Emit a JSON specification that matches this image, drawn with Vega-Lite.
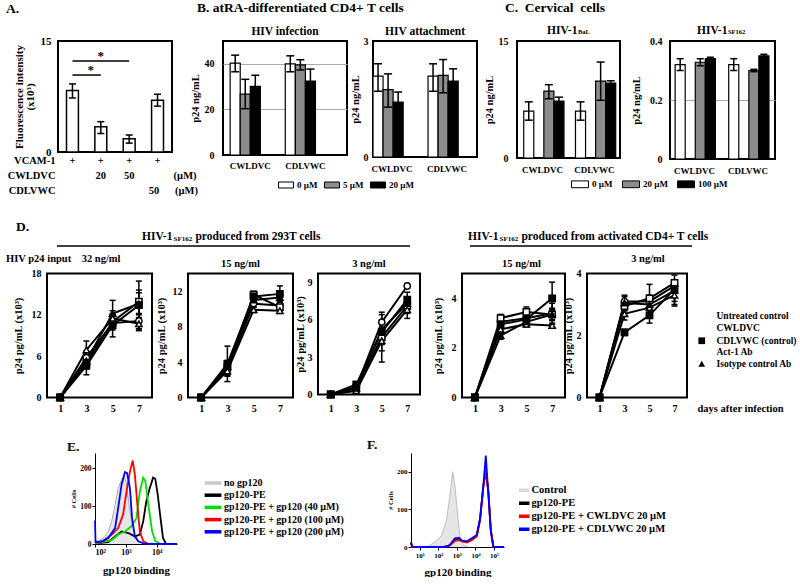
{
  "$schema": "https://vega.github.io/schema/vega-lite/v6.json",
  "background": "white",
  "padding": {"left": 0, "top": 0, "right": 0, "bottom": 0},
  "spacing": 22,
  "config": {
    "font": "Liberation Serif",
    "view": {"stroke": "black", "strokeWidth": 2},
    "title": {"font": "Liberation Serif", "fontWeight": "bold", "color": "black", "subtitleFont": "Liberation Serif", "subtitleFontWeight": "bold", "subtitleColor": "black"},
    "axis": {"labelFont": "Liberation Serif", "titleFont": "Liberation Serif", "labelFontWeight": "bold", "titleFontWeight": "bold", "labelColor": "black", "titleColor": "black", "domain": false, "ticks": false, "grid": false, "labelAngle": 0},
    "legend": {"labelFont": "Liberation Serif", "labelFontWeight": "bold", "labelColor": "black"},
    "text": {"font": "Liberation Serif"}
  },
  "datasets": {
    "dvals": [
      {"p":"D1","s":"Untreated control","day":1,"v":0},
      {"p":"D1","s":"Untreated control","day":3,"v":5.8,"lo":4.9,"hi":6.7},
      {"p":"D1","s":"Untreated control","day":5,"v":10.8,"lo":9.8,"hi":11.8},
      {"p":"D1","s":"Untreated control","day":7,"v":11.1,"lo":10.0,"hi":12.2},
      {"p":"D1","s":"CWLDVC","day":1,"v":0},
      {"p":"D1","s":"CWLDVC","day":3,"v":5.0,"lo":4.2,"hi":5.8},
      {"p":"D1","s":"CWLDVC","day":5,"v":11.0,"lo":10.0,"hi":12.0},
      {"p":"D1","s":"CWLDVC","day":7,"v":13.9,"lo":10.9,"hi":16.9},
      {"p":"D1","s":"CDLVWC (control)","day":1,"v":0},
      {"p":"D1","s":"CDLVWC (control)","day":3,"v":4.6,"lo":3.3,"hi":5.9},
      {"p":"D1","s":"CDLVWC (control)","day":5,"v":10.5,"lo":8.8,"hi":12.2},
      {"p":"D1","s":"CDLVWC (control)","day":7,"v":13.4,"lo":9.7,"hi":15.6},
      {"p":"D1","s":"Act-1 Ab","day":1,"v":0},
      {"p":"D1","s":"Act-1 Ab","day":3,"v":6.9,"lo":5.6,"hi":8.2},
      {"p":"D1","s":"Act-1 Ab","day":5,"v":11.5,"lo":10.4,"hi":12.6},
      {"p":"D1","s":"Act-1 Ab","day":7,"v":10.7,"lo":9.8,"hi":11.6},
      {"p":"D1","s":"Isotype control Ab","day":1,"v":0},
      {"p":"D1","s":"Isotype control Ab","day":3,"v":5.3,"lo":4.5,"hi":6.1},
      {"p":"D1","s":"Isotype control Ab","day":5,"v":12.2,"lo":10.3,"hi":14.1},
      {"p":"D1","s":"Isotype control Ab","day":7,"v":13.6,"lo":12.0,"hi":15.2},

      {"p":"D2","s":"Untreated control","day":1,"v":0},
      {"p":"D2","s":"Untreated control","day":3,"v":3.2,"lo":2.5,"hi":3.9},
      {"p":"D2","s":"Untreated control","day":5,"v":10.6,"lo":10.2,"hi":11.0},
      {"p":"D2","s":"Untreated control","day":7,"v":10.4,"lo":10.0,"hi":10.8},
      {"p":"D2","s":"CWLDVC","day":1,"v":0},
      {"p":"D2","s":"CWLDVC","day":3,"v":3.4,"lo":2.6,"hi":4.2},
      {"p":"D2","s":"CWLDVC","day":5,"v":11.6,"lo":11.1,"hi":12.0},
      {"p":"D2","s":"CWLDVC","day":7,"v":10.2,"lo":9.8,"hi":10.6},
      {"p":"D2","s":"CDLVWC (control)","day":1,"v":0},
      {"p":"D2","s":"CDLVWC (control)","day":3,"v":3.8,"lo":1.8,"hi":5.8},
      {"p":"D2","s":"CDLVWC (control)","day":5,"v":11.4,"lo":11.0,"hi":11.8},
      {"p":"D2","s":"CDLVWC (control)","day":7,"v":11.7,"lo":10.8,"hi":12.6},
      {"p":"D2","s":"Act-1 Ab","day":1,"v":0},
      {"p":"D2","s":"Act-1 Ab","day":3,"v":3.0,"lo":2.4,"hi":3.6},
      {"p":"D2","s":"Act-1 Ab","day":5,"v":9.9,"lo":9.6,"hi":10.2},
      {"p":"D2","s":"Act-1 Ab","day":7,"v":9.8,"lo":9.5,"hi":10.1},
      {"p":"D2","s":"Isotype control Ab","day":1,"v":0},
      {"p":"D2","s":"Isotype control Ab","day":3,"v":3.5,"lo":2.9,"hi":4.1},
      {"p":"D2","s":"Isotype control Ab","day":5,"v":11.0,"lo":10.6,"hi":11.4},
      {"p":"D2","s":"Isotype control Ab","day":7,"v":11.3,"lo":10.8,"hi":11.8},

      {"p":"D3","s":"Untreated control","day":1,"v":0},
      {"p":"D3","s":"Untreated control","day":3,"v":0.6},
      {"p":"D3","s":"Untreated control","day":5,"v":5.8,"lo":5.2,"hi":6.4},
      {"p":"D3","s":"Untreated control","day":7,"v":8.7,"lo":8.5,"hi":8.9},
      {"p":"D3","s":"CWLDVC","day":1,"v":0},
      {"p":"D3","s":"CWLDVC","day":3,"v":0.5},
      {"p":"D3","s":"CWLDVC","day":5,"v":4.6,"lo":2.6,"hi":6.6},
      {"p":"D3","s":"CWLDVC","day":7,"v":7.1,"lo":6.5,"hi":7.7},
      {"p":"D3","s":"CDLVWC (control)","day":1,"v":0},
      {"p":"D3","s":"CDLVWC (control)","day":3,"v":0.8},
      {"p":"D3","s":"CDLVWC (control)","day":5,"v":5.0,"lo":4.0,"hi":6.0},
      {"p":"D3","s":"CDLVWC (control)","day":7,"v":7.6,"lo":7.0,"hi":8.2},
      {"p":"D3","s":"Act-1 Ab","day":1,"v":0},
      {"p":"D3","s":"Act-1 Ab","day":3,"v":0.3},
      {"p":"D3","s":"Act-1 Ab","day":5,"v":4.3,"lo":3.5,"hi":5.1},
      {"p":"D3","s":"Act-1 Ab","day":7,"v":6.8,"lo":6.1,"hi":7.5},
      {"p":"D3","s":"Isotype control Ab","day":1,"v":0},
      {"p":"D3","s":"Isotype control Ab","day":3,"v":0.5},
      {"p":"D3","s":"Isotype control Ab","day":5,"v":5.2,"lo":4.5,"hi":5.9},
      {"p":"D3","s":"Isotype control Ab","day":7,"v":7.3,"lo":6.8,"hi":7.8},

      {"p":"D4","s":"Untreated control","day":1,"v":0},
      {"p":"D4","s":"Untreated control","day":3,"v":3.05,"lo":2.9,"hi":3.2},
      {"p":"D4","s":"Untreated control","day":5,"v":3.2,"lo":3.05,"hi":3.35},
      {"p":"D4","s":"Untreated control","day":7,"v":3.4,"lo":3.0,"hi":3.8},
      {"p":"D4","s":"CWLDVC","day":1,"v":0},
      {"p":"D4","s":"CWLDVC","day":3,"v":3.2,"lo":3.1,"hi":3.35},
      {"p":"D4","s":"CWLDVC","day":5,"v":3.45,"lo":3.3,"hi":3.65},
      {"p":"D4","s":"CWLDVC","day":7,"v":3.35,"lo":3.15,"hi":3.55},
      {"p":"D4","s":"CDLVWC (control)","day":1,"v":0},
      {"p":"D4","s":"CDLVWC (control)","day":3,"v":2.95,"lo":2.8,"hi":3.1},
      {"p":"D4","s":"CDLVWC (control)","day":5,"v":3.15,"lo":3.0,"hi":3.3},
      {"p":"D4","s":"CDLVWC (control)","day":7,"v":4.0,"lo":3.4,"hi":4.65},
      {"p":"D4","s":"Act-1 Ab","day":1,"v":0},
      {"p":"D4","s":"Act-1 Ab","day":3,"v":2.75,"lo":2.6,"hi":2.9},
      {"p":"D4","s":"Act-1 Ab","day":5,"v":2.95,"lo":2.85,"hi":3.05},
      {"p":"D4","s":"Act-1 Ab","day":7,"v":2.9,"lo":2.85,"hi":2.95},
      {"p":"D4","s":"Isotype control Ab","day":1,"v":0},
      {"p":"D4","s":"Isotype control Ab","day":3,"v":2.5,"lo":2.35,"hi":2.65},
      {"p":"D4","s":"Isotype control Ab","day":5,"v":3.05,"lo":2.9,"hi":3.2},
      {"p":"D4","s":"Isotype control Ab","day":7,"v":3.35,"lo":3.1,"hi":3.6},

      {"p":"D5","s":"Untreated control","day":1,"v":0},
      {"p":"D5","s":"Untreated control","day":3,"v":3.1,"lo":2.95,"hi":3.25},
      {"p":"D5","s":"Untreated control","day":5,"v":3.1,"lo":2.9,"hi":3.3},
      {"p":"D5","s":"Untreated control","day":7,"v":3.6,"lo":3.4,"hi":3.8},
      {"p":"D5","s":"CWLDVC","day":1,"v":0},
      {"p":"D5","s":"CWLDVC","day":3,"v":2.95,"lo":2.8,"hi":3.1},
      {"p":"D5","s":"CWLDVC","day":5,"v":3.2,"lo":2.75,"hi":3.65},
      {"p":"D5","s":"CWLDVC","day":7,"v":3.7,"lo":3.45,"hi":3.95},
      {"p":"D5","s":"CDLVWC (control)","day":1,"v":0},
      {"p":"D5","s":"CDLVWC (control)","day":3,"v":2.1,"lo":2.0,"hi":2.2},
      {"p":"D5","s":"CDLVWC (control)","day":5,"v":2.65,"lo":2.4,"hi":2.9},
      {"p":"D5","s":"CDLVWC (control)","day":7,"v":3.5,"lo":3.0,"hi":3.8},
      {"p":"D5","s":"Act-1 Ab","day":1,"v":0},
      {"p":"D5","s":"Act-1 Ab","day":3,"v":2.7,"lo":2.5,"hi":2.9},
      {"p":"D5","s":"Act-1 Ab","day":5,"v":2.9,"lo":2.7,"hi":3.1},
      {"p":"D5","s":"Act-1 Ab","day":7,"v":3.3,"lo":3.1,"hi":3.5},
      {"p":"D5","s":"Isotype control Ab","day":1,"v":0},
      {"p":"D5","s":"Isotype control Ab","day":3,"v":3.05,"lo":2.8,"hi":3.3},
      {"p":"D5","s":"Isotype control Ab","day":5,"v":3.0,"lo":2.8,"hi":3.2},
      {"p":"D5","s":"Isotype control Ab","day":7,"v":3.45,"lo":2.95,"hi":3.75}
    ],
    "eGray": [
      {"x":100,"n":2},{"x":126,"n":5},{"x":209,"n":20},{"x":269,"n":33},{"x":347,"n":60},{"x":447,"n":104},{"x":562,"n":147},{"x":724,"n":170},{"x":891,"n":182},{"x":1047,"n":157},{"x":1259,"n":104},{"x":1514,"n":60},{"x":1950,"n":25},{"x":2512,"n":8},{"x":3981,"n":0}
    ],
    "eLines": [
      {"s":"gp120-PE","x":100,"n":2},{"s":"gp120-PE","x":269,"n":5},{"s":"gp120-PE","x":447,"n":20},{"s":"gp120-PE","x":724,"n":33},{"s":"gp120-PE","x":1202,"n":29},{"s":"gp120-PE","x":1950,"n":20},{"s":"gp120-PE","x":2818,"n":25},{"s":"gp120-PE","x":3631,"n":60},{"s":"gp120-PE","x":4571,"n":112},{"s":"gp120-PE","x":5888,"n":147},{"s":"gp120-PE","x":7586,"n":175},{"s":"gp120-PE","x":8913,"n":172},{"s":"gp120-PE","x":10715,"n":130},{"s":"gp120-PE","x":13183,"n":68},{"s":"gp120-PE","x":15849,"n":16},{"s":"gp120-PE","x":19953,"n":0},{"s":"gp120-PE","x":45000,"n":0},
      {"s":"gp120-PE + gp120 (40 µM)","x":100,"n":2},{"s":"gp120-PE + gp120 (40 µM)","x":347,"n":10},{"s":"gp120-PE + gp120 (40 µM)","x":562,"n":25},{"s":"gp120-PE + gp120 (40 µM)","x":933,"n":33},{"s":"gp120-PE + gp120 (40 µM)","x":1514,"n":47},{"s":"gp120-PE + gp120 (40 µM)","x":2188,"n":68},{"s":"gp120-PE + gp120 (40 µM)","x":2818,"n":138},{"s":"gp120-PE + gp120 (40 µM)","x":3631,"n":175},{"s":"gp120-PE + gp120 (40 µM)","x":4266,"n":165},{"s":"gp120-PE + gp120 (40 µM)","x":5495,"n":95},{"s":"gp120-PE + gp120 (40 µM)","x":7079,"n":33},{"s":"gp120-PE + gp120 (40 µM)","x":8913,"n":8},{"s":"gp120-PE + gp120 (40 µM)","x":12589,"n":1},{"s":"gp120-PE + gp120 (40 µM)","x":45000,"n":0},
      {"s":"gp120-PE + gp120 (100 µM)","x":100,"n":3},{"s":"gp120-PE + gp120 (100 µM)","x":186,"n":8},{"s":"gp120-PE + gp120 (100 µM)","x":347,"n":25},{"s":"gp120-PE + gp120 (100 µM)","x":562,"n":42},{"s":"gp120-PE + gp120 (100 µM)","x":813,"n":78},{"s":"gp120-PE + gp120 (100 µM)","x":1047,"n":138},{"s":"gp120-PE + gp120 (100 µM)","x":1349,"n":191},{"s":"gp120-PE + gp120 (100 µM)","x":1660,"n":220},{"s":"gp120-PE + gp120 (100 µM)","x":1950,"n":183},{"s":"gp120-PE + gp120 (100 µM)","x":2399,"n":95},{"s":"gp120-PE + gp120 (100 µM)","x":2818,"n":33},{"s":"gp120-PE + gp120 (100 µM)","x":3631,"n":8},{"s":"gp120-PE + gp120 (100 µM)","x":5012,"n":1},{"s":"gp120-PE + gp120 (100 µM)","x":45000,"n":0},
      {"s":"gp120-PE + gp120 (200 µM)","x":100,"n":62},{"s":"gp120-PE + gp120 (200 µM)","x":104,"n":6},{"s":"gp120-PE + gp120 (200 µM)","x":158,"n":6},{"s":"gp120-PE + gp120 (200 µM)","x":269,"n":16},{"s":"gp120-PE + gp120 (200 µM)","x":447,"n":42},{"s":"gp120-PE + gp120 (200 µM)","x":562,"n":95},{"s":"gp120-PE + gp120 (200 µM)","x":724,"n":157},{"s":"gp120-PE + gp120 (200 µM)","x":933,"n":190},{"s":"gp120-PE + gp120 (200 µM)","x":1096,"n":187},{"s":"gp120-PE + gp120 (200 µM)","x":1349,"n":147},{"s":"gp120-PE + gp120 (200 µM)","x":1585,"n":68},{"s":"gp120-PE + gp120 (200 µM)","x":1950,"n":20},{"s":"gp120-PE + gp120 (200 µM)","x":2512,"n":7},{"s":"gp120-PE + gp120 (200 µM)","x":3981,"n":1},{"s":"gp120-PE + gp120 (200 µM)","x":45000,"n":0}
    ],
    "fGray": [
      {"x":3.3,"n":0},{"x":28,"n":2},{"x":63,"n":13},{"x":151,"n":30},{"x":282,"n":75},{"x":417,"n":137},{"x":589,"n":200},{"x":776,"n":163},{"x":1096,"n":85},{"x":1445,"n":30},{"x":2188,"n":5},{"x":3981,"n":0}
    ],
    "fLines": [
      {"s":"gp120-PE","x":3.3,"n":12},{"s":"gp120-PE","x":3.8,"n":1},{"s":"gp120-PE","x":10,"n":0},{"s":"gp120-PE","x":200,"n":0},{"s":"gp120-PE","x":316,"n":2},{"s":"gp120-PE","x":417,"n":5},{"s":"gp120-PE","x":776,"n":20},{"s":"gp120-PE","x":1259,"n":22},{"s":"gp120-PE","x":1862,"n":17},{"s":"gp120-PE","x":3467,"n":13},{"s":"gp120-PE","x":6310,"n":20},{"s":"gp120-PE","x":11749,"n":30},{"s":"gp120-PE","x":17783,"n":75},{"s":"gp120-PE","x":26915,"n":163},{"s":"gp120-PE","x":36308,"n":200},{"s":"gp120-PE","x":50119,"n":145},{"s":"gp120-PE","x":67608,"n":45},{"s":"gp120-PE","x":93325,"n":0},{"s":"gp120-PE","x":350000,"n":0},
      {"s":"gp120-PE + CWLDVC 20 µM","x":3.3,"n":10},{"s":"gp120-PE + CWLDVC 20 µM","x":3.8,"n":1},{"s":"gp120-PE + CWLDVC 20 µM","x":10,"n":0},{"s":"gp120-PE + CWLDVC 20 µM","x":200,"n":0},{"s":"gp120-PE + CWLDVC 20 µM","x":316,"n":2},{"s":"gp120-PE + CWLDVC 20 µM","x":417,"n":4},{"s":"gp120-PE + CWLDVC 20 µM","x":776,"n":16},{"s":"gp120-PE + CWLDVC 20 µM","x":1259,"n":18},{"s":"gp120-PE + CWLDVC 20 µM","x":1862,"n":15},{"s":"gp120-PE + CWLDVC 20 µM","x":3467,"n":12},{"s":"gp120-PE + CWLDVC 20 µM","x":6310,"n":18},{"s":"gp120-PE + CWLDVC 20 µM","x":11749,"n":28},{"s":"gp120-PE + CWLDVC 20 µM","x":17783,"n":70},{"s":"gp120-PE + CWLDVC 20 µM","x":26915,"n":160},{"s":"gp120-PE + CWLDVC 20 µM","x":36308,"n":205},{"s":"gp120-PE + CWLDVC 20 µM","x":50119,"n":150},{"s":"gp120-PE + CWLDVC 20 µM","x":67608,"n":48},{"s":"gp120-PE + CWLDVC 20 µM","x":93325,"n":0},{"s":"gp120-PE + CWLDVC 20 µM","x":350000,"n":0},
      {"s":"gp120-PE + CDLVWC 20 µM","x":3.3,"n":12},{"s":"gp120-PE + CDLVWC 20 µM","x":3.8,"n":1},{"s":"gp120-PE + CDLVWC 20 µM","x":10,"n":0},{"s":"gp120-PE + CDLVWC 20 µM","x":200,"n":0},{"s":"gp120-PE + CDLVWC 20 µM","x":316,"n":2},{"s":"gp120-PE + CDLVWC 20 µM","x":417,"n":6},{"s":"gp120-PE + CDLVWC 20 µM","x":776,"n":23},{"s":"gp120-PE + CDLVWC 20 µM","x":1259,"n":25},{"s":"gp120-PE + CDLVWC 20 µM","x":1862,"n":17},{"s":"gp120-PE + CDLVWC 20 µM","x":3467,"n":15},{"s":"gp120-PE + CDLVWC 20 µM","x":6310,"n":23},{"s":"gp120-PE + CDLVWC 20 µM","x":11749,"n":32},{"s":"gp120-PE + CDLVWC 20 µM","x":17783,"n":75},{"s":"gp120-PE + CDLVWC 20 µM","x":26915,"n":165},{"s":"gp120-PE + CDLVWC 20 µM","x":36308,"n":243},{"s":"gp120-PE + CDLVWC 20 µM","x":50119,"n":140},{"s":"gp120-PE + CDLVWC 20 µM","x":67608,"n":42},{"s":"gp120-PE + CDLVWC 20 µM","x":93325,"n":0},{"s":"gp120-PE + CDLVWC 20 µM","x":350000,"n":0}
    ]
  },
  "resolve": {"scale": {"color": "independent", "shape": "independent", "fill": "independent"}, "legend": {"color": "independent", "shape": "independent", "fill": "independent"}},
  "vconcat": [
    {
      "bounds": "flush",
      "spacing": 0,
      "resolve": {"scale": {"color": "independent"}, "legend": {"color": "independent"}},
      "hconcat": [
        {"width": 58, "height": 1, "view": {"stroke": null, "fill": "white"}, "data": {"values": []}, "mark": "point"},
        {
          "width": 114, "height": 111,
          "title": {"text": "A.", "anchor": "start", "frame": "group", "dx": -52, "fontSize": 13.5, "offset": 20},
          "data": {"values": [
            {"cond": "c1", "value": 8.3, "lo": 7.3, "hi": 9.2},
            {"cond": "c2", "value": 3.4, "lo": 2.5, "hi": 4.1},
            {"cond": "c3", "value": 1.8, "lo": 1.2, "hi": 2.3},
            {"cond": "c4", "value": 7.0, "lo": 6.2, "hi": 7.8}
          ]},
          "encoding": {
            "x": {"field": "cond", "type": "nominal", "scale": {"domain": ["c1","c2","c3","c4"], "paddingInner": 0.58, "paddingOuter": 0.3},
              "axis": {"title": ["VCAM-1", "CWLDVC", "CDLVWC"], "titleFontSize": 10.5, "titleAlign": "right", "titleBaseline": "top", "titleX": -3, "titleY": 3, "titleLineHeight": 15,
                "labelExpr": "datum.value == 'c1' ? ['+', '', ''] : datum.value == 'c2' ? ['+', '20', ''] : datum.value == 'c3' ? ['+', '50', ''] : ['+', '\u200b\u00a0\u00a0\u00a0\u00a0\u00a0\u00a0\u00a0\u00a0\u00a0\u00a0\u00a0\u00a0\u00a0\u00a0\u00a0\u00a0\u00a0\u00a0\u00a0\u00a0\u00a0(µM)', '\u200b\u00a0\u00a0\u00a0\u00a0\u00a0\u00a0\u00a0\u00a0\u00a0\u00a0\u00a0\u00a050\u00a0\u00a0\u00a0\u00a0\u00a0\u00a0(µM)']",
                "labelFontSize": 10.5, "labelPadding": 3, "labelBaseline": "top", "labelLineHeight": 15}}
          },
          "layer": [
            {"mark": {"type": "bar", "fill": "white", "stroke": "black", "strokeWidth": 1.5},
             "encoding": {"y": {"field": "value", "type": "quantitative", "scale": {"domain": [0, 15], "nice": false},
               "axis": {"title": ["Fluorescence intensity", "(x10³)"], "titleFontSize": 11, "titleLineHeight": 11, "values": [0,5,10,15], "grid": true,
                 "gridColor": {"condition": {"test": "datum.value == 0 || datum.value == 15", "value": "black"}, "value": "#aaaaaa"},
                 "labelFontSize": 11, "labelPadding": 7, "titlePadding": 5}}}},
            {"mark": {"type": "rule", "strokeWidth": 1.5, "color": "black"}, "encoding": {"y": {"field": "lo", "type": "quantitative"}, "y2": {"field": "hi"}}},
            {"mark": {"type": "tick", "size": 7, "thickness": 1.5, "color": "black", "opacity": 1}, "encoding": {"y": {"field": "lo", "type": "quantitative"}}},
            {"mark": {"type": "tick", "size": 7, "thickness": 1.5, "color": "black", "opacity": 1}, "encoding": {"y": {"field": "hi", "type": "quantitative"}}},
            {"data": {"values": [{"from": "c1", "to": "c3", "y": 12.3}, {"from": "c1", "to": "c2", "y": 10.4}]},
             "mark": {"type": "rule", "strokeWidth": 1.5, "color": "black"},
             "encoding": {"x": {"field": "from", "type": "nominal"}, "x2": {"field": "to"}, "y": {"field": "y", "type": "quantitative"}}},
            {"data": {"values": [{"at": "c2", "y": 12.3, "star": "*"}]},
             "mark": {"type": "text", "baseline": "alphabetic", "fontSize": 13, "fontWeight": "bold", "dy": -1},
             "encoding": {"x": {"field": "at", "type": "nominal"}, "y": {"field": "y", "type": "quantitative"}, "text": {"field": "star"}}},
            {"data": {"values": [{"at": "c2", "y": 10.4, "star": "*"}]},
             "mark": {"type": "text", "baseline": "alphabetic", "fontSize": 13, "fontWeight": "bold", "dy": -1, "dx": -10},
             "encoding": {"x": {"field": "at", "type": "nominal"}, "y": {"field": "y", "type": "quantitative"}, "text": {"field": "star"}}}
          ]
        },
        {"width": 51, "height": 1, "view": {"stroke": null}, "data": {"values": []}, "mark": "point",
         "title": {"text": "B. atRA-differentiated CD4+ T cells", "anchor": "start", "frame": "group", "dx": 25, "fontSize": 13.5, "offset": 27}},
        {
          "width": 124, "height": 114,
          "title": {"text": "HIV infection", "fontSize": 11.5, "offset": 4},
          "data": {"values": [
            {"drug":"CWLDVC","conc":"0 µM","v":40.3,"lo":36.5,"hi":43.8},
            {"drug":"CWLDVC","conc":"5 µM","v":26.7,"lo":20.3,"hi":33.2},
            {"drug":"CWLDVC","conc":"20 µM","v":30.1,"lo":24.9,"hi":35.0},
            {"drug":"CDLVWC","conc":"0 µM","v":40.0,"lo":36.5,"hi":43.5},
            {"drug":"CDLVWC","conc":"5 µM","v":39.5,"lo":37.3,"hi":41.8},
            {"drug":"CDLVWC","conc":"20 µM","v":32.4,"lo":25.6,"hi":37.7}
          ]},
          "encoding": {
            "x": {"field": "drug", "type": "nominal", "scale": {"domain": ["CWLDVC","CDLVWC"], "paddingInner": 0.27, "paddingOuter": 0.26, "align": 0.25}, "axis": {"title": null, "labelFontSize": 9, "labelPadding": 6}},
            "xOffset": {"field": "conc", "type": "nominal", "scale": {"domain": ["0 µM","5 µM","20 µM"]}}
          },
          "layer": [
            {"mark": {"type": "bar", "stroke": "black", "strokeWidth": 1.2},
             "encoding": {
               "y": {"field": "v", "type": "quantitative", "scale": {"domain": [0, 50], "nice": false},
                 "axis": {"title": "p24 ng/mL", "titleFontSize": 10.5, "values": [0,10,20,30,40,50], "grid": true,
                   "gridColor": {"condition": {"test": "datum.value == 0 || datum.value == 50", "value": "black"}, "value": "#aaaaaa"},
                   "labelFontSize": 10, "labelPadding": 9, "titlePadding": 4}},
               "color": {"field": "conc", "type": "nominal", "scale": {"domain": ["0 µM","5 µM","20 µM"], "range": ["white", "#8c8c8c", "black"]},
                 "legend": {"orient": "none", "legendX": 55, "legendY": 136, "direction": "horizontal", "title": null, "symbolType": "M-1,-0.4H1V0.4H-1Z", "symbolSize": 225, "symbolStrokeColor": "black", "symbolStrokeWidth": 1, "symbolOpacity": 1, "labelFontSize": 9, "labelOffset": 3, "columnPadding": 4}}
             }},
            {"mark": {"type": "rule", "strokeWidth": 1.5, "color": "black"}, "encoding": {"y": {"field": "lo", "type": "quantitative"}, "y2": {"field": "hi"}}},
            {"mark": {"type": "tick", "size": 8, "thickness": 1.5, "color": "black", "opacity": 1}, "encoding": {"y": {"field": "lo", "type": "quantitative"}}},
            {"mark": {"type": "tick", "size": 8, "thickness": 1.5, "color": "black", "opacity": 1}, "encoding": {"y": {"field": "hi", "type": "quantitative"}}}
          ]
        },
        {"width": 26, "height": 1, "view": {"stroke": null}, "data": {"values": []}, "mark": "point"},
        {
          "width": 104, "height": 116,
          "title": {"text": "HIV attachment", "fontSize": 11.5, "offset": -1.5},
          "data": {"values": [
            {"drug":"CWLDVC","conc":"0 µM","v":2.09,"lo":1.70,"hi":2.41},
            {"drug":"CWLDVC","conc":"5 µM","v":1.74,"lo":1.29,"hi":2.15},
            {"drug":"CWLDVC","conc":"20 µM","v":1.42,"lo":1.15,"hi":1.68},
            {"drug":"CDLVWC","conc":"0 µM","v":2.09,"lo":1.70,"hi":2.41},
            {"drug":"CDLVWC","conc":"5 µM","v":2.11,"lo":1.66,"hi":2.52},
            {"drug":"CDLVWC","conc":"20 µM","v":1.96,"lo":1.72,"hi":2.28}
          ]},
          "encoding": {
            "x": {"field": "drug", "type": "nominal", "scale": {"domain": ["CWLDVC","CDLVWC"], "paddingInner": 0.31, "paddingOuter": 0.1, "align": 0}, "axis": {"title": null, "labelFontSize": 9, "labelPadding": 7}},
            "xOffset": {"field": "conc", "type": "nominal", "scale": {"domain": ["0 µM","5 µM","20 µM"]}}
          },
          "layer": [
            {"mark": {"type": "bar", "stroke": "black", "strokeWidth": 1.2},
             "encoding": {
               "y": {"field": "v", "type": "quantitative", "scale": {"domain": [0, 3], "nice": false},
                 "axis": {"title": "p24 ng/mL", "titleFontSize": 10.5, "values": [0,1,2,3], "grid": true,
                   "gridColor": {"condition": {"test": "datum.value == 0 || datum.value == 3", "value": "black"}, "value": "#aaaaaa"},
                   "labelFontSize": 10, "labelPadding": 5, "titlePadding": 3}},
               "color": {"field": "conc", "type": "nominal", "scale": {"domain": ["0 µM","5 µM","20 µM"], "range": ["white", "#8c8c8c", "black"]}, "legend": null}
             }},
            {"mark": {"type": "rule", "strokeWidth": 1.5, "color": "black"}, "encoding": {"y": {"field": "lo", "type": "quantitative"}, "y2": {"field": "hi"}}},
            {"mark": {"type": "tick", "size": 8, "thickness": 1.5, "color": "black", "opacity": 1}, "encoding": {"y": {"field": "lo", "type": "quantitative"}}},
            {"mark": {"type": "tick", "size": 8, "thickness": 1.5, "color": "black", "opacity": 1}, "encoding": {"y": {"field": "hi", "type": "quantitative"}}}
          ]
        },
        {"width": 40, "height": 1, "view": {"stroke": null}, "data": {"values": []}, "mark": "point",
         "title": {"text": "C.\u00a0\u00a0Cervical\u00a0\u00a0cells", "anchor": "start", "frame": "group", "dx": 28, "fontSize": 13.5, "offset": 27}},
        {
          "width": 103, "height": 117,
          "title": {"text": "HIV-1", "subtitle": "\u200b\u00a0\u00a0\u00a0\u00a0\u00a0\u00a0\u00a0\u00a0\u00a0\u00a0\u00a0\u00a0\u00a0\u00a0\u00a0\u00a0\u00a0\u00a0\u00a0BaL", "anchor": "start", "frame": "group", "dx": 30, "fontSize": 11.5, "subtitleFontSize": 6.5, "subtitlePadding": -7, "offset": 0},
          "data": {"values": [
            {"drug":"CWLDVC","conc":"0 µM","v":6.0,"lo":4.85,"hi":7.2},
            {"drug":"CWLDVC","conc":"20 µM","v":8.57,"lo":7.6,"hi":9.4},
            {"drug":"CWLDVC","conc":"100 µM","v":7.3,"lo":6.7,"hi":7.8},
            {"drug":"CDLVWC","conc":"0 µM","v":6.0,"lo":4.85,"hi":7.2},
            {"drug":"CDLVWC","conc":"20 µM","v":9.86,"lo":7.4,"hi":12.3},
            {"drug":"CDLVWC","conc":"100 µM","v":9.6,"lo":9.2,"hi":9.9}
          ]},
          "encoding": {
            "x": {"field": "drug", "type": "nominal", "scale": {"domain": ["CWLDVC","CDLVWC"], "paddingInner": 0.27, "paddingOuter": 0.13, "align": 0.5}, "axis": {"title": null, "labelFontSize": 9, "labelPadding": 7}},
            "xOffset": {"field": "conc", "type": "nominal", "scale": {"domain": ["0 µM","20 µM","100 µM"]}}
          },
          "layer": [
            {"mark": {"type": "bar", "stroke": "black", "strokeWidth": 1.2},
             "encoding": {
               "y": {"field": "v", "type": "quantitative", "scale": {"domain": [0, 15], "nice": false},
                 "axis": {"title": "p24 ng/mL", "titleFontSize": 10.5, "values": [0,5,10,15], "grid": true,
                   "gridColor": {"condition": {"test": "datum.value == 0 || datum.value == 15", "value": "black"}, "value": "#aaaaaa"},
                   "labelFontSize": 10, "labelPadding": 9, "titlePadding": 4}},
               "color": {"field": "conc", "type": "nominal", "scale": {"domain": ["0 µM","20 µM","100 µM"], "range": ["white", "#8c8c8c", "black"]},
                 "legend": {"orient": "none", "legendX": 54, "legendY": 134, "direction": "horizontal", "title": null, "symbolType": "M-1,-0.4H1V0.4H-1Z", "symbolSize": 289, "symbolStrokeColor": "black", "symbolStrokeWidth": 1, "symbolOpacity": 1, "labelFontSize": 9, "labelOffset": 3, "columnPadding": 7}}
             }},
            {"mark": {"type": "rule", "strokeWidth": 1.5, "color": "black"}, "encoding": {"y": {"field": "lo", "type": "quantitative"}, "y2": {"field": "hi"}}},
            {"mark": {"type": "tick", "size": 8, "thickness": 1.5, "color": "black", "opacity": 1}, "encoding": {"y": {"field": "lo", "type": "quantitative"}}},
            {"mark": {"type": "tick", "size": 8, "thickness": 1.5, "color": "black", "opacity": 1}, "encoding": {"y": {"field": "hi", "type": "quantitative"}}}
          ]
        },
        {"width": 50, "height": 1, "view": {"stroke": null}, "data": {"values": []}, "mark": "point"},
        {
          "width": 105, "height": 118,
          "title": {"text": "HIV-1", "subtitle": "\u200b\u00a0\u00a0\u00a0\u00a0\u00a0\u00a0\u00a0\u00a0\u00a0\u00a0\u00a0\u00a0\u00a0\u00a0\u00a0\u00a0\u00a0\u00a0\u00a0SF162", "anchor": "start", "frame": "group", "dx": 27, "fontSize": 11.5, "subtitleFontSize": 6.5, "subtitlePadding": -7, "offset": 0},
          "data": {"values": [
            {"drug":"CWLDVC","conc":"0 µM","v":0.32,"lo":0.30,"hi":0.34},
            {"drug":"CWLDVC","conc":"20 µM","v":0.328,"lo":0.316,"hi":0.34},
            {"drug":"CWLDVC","conc":"100 µM","v":0.34,"lo":0.335,"hi":0.345},
            {"drug":"CDLVWC","conc":"0 µM","v":0.32,"lo":0.30,"hi":0.34},
            {"drug":"CDLVWC","conc":"20 µM","v":0.30,"lo":0.296,"hi":0.304},
            {"drug":"CDLVWC","conc":"100 µM","v":0.35,"lo":0.345,"hi":0.355}
          ]},
          "encoding": {
            "x": {"field": "drug", "type": "nominal", "scale": {"domain": ["CWLDVC","CDLVWC"], "paddingInner": 0.28, "paddingOuter": 0.12, "align": 0.4}, "axis": {"title": null, "labelFontSize": 9, "labelPadding": 7}},
            "xOffset": {"field": "conc", "type": "nominal", "scale": {"domain": ["0 µM","20 µM","100 µM"]}}
          },
          "layer": [
            {"mark": {"type": "bar", "stroke": "black", "strokeWidth": 1.2},
             "encoding": {
               "y": {"field": "v", "type": "quantitative", "scale": {"domain": [0, 0.4], "nice": false},
                 "axis": {"title": "p24 ng/mL", "titleFontSize": 10.5, "values": [0,0.05,0.1,0.15,0.2,0.25,0.3,0.35,0.4], "format": ".2~f", "grid": true,
                   "gridColor": {"condition": {"test": "datum.value == 0 || datum.value == 0.4", "value": "black"}, "value": "#aaaaaa"},
                   "labelFontSize": 10, "labelPadding": 8, "titlePadding": 8}},
               "color": {"field": "conc", "type": "nominal", "scale": {"domain": ["0 µM","20 µM","100 µM"], "range": ["white", "#8c8c8c", "black"]}, "legend": null}
             }},
            {"mark": {"type": "rule", "strokeWidth": 1.5, "color": "black"}, "encoding": {"y": {"field": "lo", "type": "quantitative"}, "y2": {"field": "hi"}}},
            {"mark": {"type": "tick", "size": 7, "thickness": 1.5, "color": "black", "opacity": 1}, "encoding": {"y": {"field": "lo", "type": "quantitative"}}},
            {"mark": {"type": "tick", "size": 7, "thickness": 1.5, "color": "black", "opacity": 1}, "encoding": {"y": {"field": "hi", "type": "quantitative"}}}
          ]
        }
      ]
    },
    {
      "spacing": 5.5,
      "resolve": {"scale": {"shape": "independent", "fill": "independent"}, "legend": {"shape": "independent", "fill": "independent"}},
      "vconcat": [
        {
          "bounds": "flush",
          "spacing": 0,
          "hconcat": [
            {"width": 57, "height": 2, "view": {"stroke": null, "fill": "white"}, "data": {"values": []}, "mark": "point",
             "title": {"text": "D.", "anchor": "start", "frame": "group", "dx": 16, "fontSize": 13.5, "offset": 12}},
            {
              "width": 353, "height": 2,
              "view": {"stroke": null},
              "title": {"text": "HIV-1\u00a0\u00a0\u00a0\u00a0\u00a0\u00a0\u00a0\u00a0produced from 293T cells", "subtitle": "\u200b\u00a0\u00a0\u00a0\u00a0\u00a0\u00a0\u00a0\u00a0\u00a0\u00a0\u00a0\u00a0\u00a0\u00a0\u00a0\u00a0\u00a0\u00a0SF162", "anchor": "start", "frame": "group", "dx": 85, "fontSize": 11.5, "subtitleFontSize": 7, "subtitlePadding": -7, "offset": 3},
              "data": {"values": [{"k": 1}]},
              "mark": {"type": "rule", "strokeWidth": 1.5, "color": "black"},
              "encoding": {"x": {"datum": 0, "type": "quantitative", "scale": {"domain": [0, 1], "nice": false}, "axis": null}, "x2": {"datum": 1}}
            },
            {"width": 60, "height": 2, "view": {"stroke": null}, "data": {"values": []}, "mark": "point"},
            {
              "width": 222, "height": 2,
              "view": {"stroke": null},
              "title": {"text": "HIV-1\u00a0\u00a0\u00a0\u00a0\u00a0\u00a0\u00a0\u00a0produced from activated CD4+ T cells", "subtitle": "\u200b\u00a0\u00a0\u00a0\u00a0\u00a0\u00a0\u00a0\u00a0\u00a0\u00a0\u00a0\u00a0\u00a0\u00a0\u00a0\u00a0\u00a0\u00a0SF162", "anchor": "start", "frame": "group", "dx": -2, "fontSize": 11.5, "subtitleFontSize": 7, "subtitlePadding": -7, "offset": 3},
              "data": {"values": [{"k": 1}]},
              "mark": {"type": "rule", "strokeWidth": 1.5, "color": "black"},
              "encoding": {"x": {"datum": 0, "type": "quantitative", "scale": {"domain": [0, 1], "nice": false}, "axis": null}, "x2": {"datum": 1}}
            }
          ]
        },
        {
          "bounds": "flush",
          "spacing": 0,
          "resolve": {"scale": {"shape": "independent", "fill": "independent"}, "legend": {"shape": "independent", "fill": "independent"}},
          "hconcat": [
            {"width": 47, "height": 1, "view": {"stroke": null, "fill": "white"}, "data": {"values": []}, "mark": "point"},
            {
              "width": 105, "height": 124,
              "title": {"text": "HIV p24 input\u00a0\u00a0\u00a0\u00a032 ng/ml", "anchor": "start", "frame": "group", "dx": -41, "fontSize": 10.5, "offset": 4},
              "data": {"name": "dvals"},
              "transform": [{"filter": "datum.p == 'D1'"}],
              "encoding": {"x": {"field": "day", "type": "quantitative", "scale": {"domain": [0, 8], "nice": false}, "axis": {"values": [1,3,5,7], "title": null, "labelFontSize": 10, "labelPadding": 6}}},
              "layer": [
                {"mark": {"type": "line", "color": "black", "strokeWidth": 2},
                 "encoding": {"y": {"field": "v", "type": "quantitative", "scale": {"domain": [0, 18], "nice": false}, "axis": {"values": [0,3,6,9,12,15,18], "title": "p24 pg/mL (x10³)", "titleFontSize": 10.5, "labelFontSize": 10, "labelPadding": 6, "titlePadding": 8}}, "detail": {"field": "s"}}},
                {"mark": {"type": "rule", "color": "black", "strokeWidth": 1.5}, "encoding": {"y": {"field": "lo", "type": "quantitative"}, "y2": {"field": "hi"}}},
                {"mark": {"type": "tick", "orient": "horizontal", "color": "black", "size": 6, "thickness": 1.5, "opacity": 1}, "encoding": {"y": {"field": "lo", "type": "quantitative"}}},
                {"mark": {"type": "tick", "orient": "horizontal", "color": "black", "size": 6, "thickness": 1.5, "opacity": 1}, "encoding": {"y": {"field": "hi", "type": "quantitative"}}},
                {"mark": {"type": "point", "filled": true, "stroke": "black", "strokeWidth": 1.5, "size": 40, "opacity": 1},
                 "encoding": {"y": {"field": "v", "type": "quantitative"},
                   "shape": {"field": "s", "type": "nominal", "scale": {"domain": ["Untreated control","CWLDVC","CDLVWC (control)","Act-1 Ab","Isotype control Ab"], "range": ["circle","square","square","triangle-up","triangle-up"]}, "legend": null},
                   "fill": {"field": "s", "type": "nominal", "scale": {"domain": ["Untreated control","CWLDVC","CDLVWC (control)","Act-1 Ab","Isotype control Ab"], "range": ["white","white","black","white","black"]}, "legend": null}}}
              ]
            },
            {"width": 36, "height": 1, "view": {"stroke": null}, "data": {"values": []}, "mark": "point"},
            {
              "width": 105, "height": 124,
              "title": {"text": "15 ng/ml", "fontSize": 10.5, "offset": 4},
              "data": {"name": "dvals"},
              "transform": [{"filter": "datum.p == 'D2'"}],
              "encoding": {"x": {"field": "day", "type": "quantitative", "scale": {"domain": [0, 8], "nice": false}, "axis": {"values": [1,3,5,7], "title": null, "labelFontSize": 10, "labelPadding": 6}}},
              "layer": [
                {"mark": {"type": "line", "color": "black", "strokeWidth": 2},
                 "encoding": {"y": {"field": "v", "type": "quantitative", "scale": {"domain": [0, 14], "nice": false}, "axis": {"values": [0,2,4,6,8,10,12,14], "title": "p24 pg/mL (x10³)", "titleFontSize": 10.5, "labelFontSize": 10, "labelPadding": 6, "titlePadding": 6}}, "detail": {"field": "s"}}},
                {"mark": {"type": "rule", "color": "black", "strokeWidth": 1.5}, "encoding": {"y": {"field": "lo", "type": "quantitative"}, "y2": {"field": "hi"}}},
                {"mark": {"type": "tick", "orient": "horizontal", "color": "black", "size": 6, "thickness": 1.5, "opacity": 1}, "encoding": {"y": {"field": "lo", "type": "quantitative"}}},
                {"mark": {"type": "tick", "orient": "horizontal", "color": "black", "size": 6, "thickness": 1.5, "opacity": 1}, "encoding": {"y": {"field": "hi", "type": "quantitative"}}},
                {"mark": {"type": "point", "filled": true, "stroke": "black", "strokeWidth": 1.5, "size": 40, "opacity": 1},
                 "encoding": {"y": {"field": "v", "type": "quantitative"},
                   "shape": {"field": "s", "type": "nominal", "scale": {"domain": ["Untreated control","CWLDVC","CDLVWC (control)","Act-1 Ab","Isotype control Ab"], "range": ["circle","square","square","triangle-up","triangle-up"]}, "legend": null},
                   "fill": {"field": "s", "type": "nominal", "scale": {"domain": ["Untreated control","CWLDVC","CDLVWC (control)","Act-1 Ab","Isotype control Ab"], "range": ["white","white","black","white","black"]}, "legend": null}}}
              ]
            },
            {"width": 25, "height": 1, "view": {"stroke": null}, "data": {"values": []}, "mark": "point"},
            {
              "width": 102, "height": 121,
              "title": {"text": "3 ng/ml", "fontSize": 10.5, "offset": 4},
              "data": {"name": "dvals"},
              "transform": [{"filter": "datum.p == 'D3'"}],
              "encoding": {"x": {"field": "day", "type": "quantitative", "scale": {"domain": [0, 8], "nice": false}, "axis": {"values": [1,3,5,7], "title": null, "labelFontSize": 10, "labelPadding": 9}}},
              "layer": [
                {"mark": {"type": "line", "color": "black", "strokeWidth": 2},
                 "encoding": {"y": {"field": "v", "type": "quantitative", "scale": {"domain": [0, 9.7], "nice": false}, "axis": {"values": [0,3,6,9], "title": "p24 pg/mL (x10³)", "titleFontSize": 10.5, "labelFontSize": 10, "labelPadding": 6, "titlePadding": 2}}, "detail": {"field": "s"}}},
                {"mark": {"type": "rule", "color": "black", "strokeWidth": 1.5}, "encoding": {"y": {"field": "lo", "type": "quantitative"}, "y2": {"field": "hi"}}},
                {"mark": {"type": "tick", "orient": "horizontal", "color": "black", "size": 6, "thickness": 1.5, "opacity": 1}, "encoding": {"y": {"field": "lo", "type": "quantitative"}}},
                {"mark": {"type": "tick", "orient": "horizontal", "color": "black", "size": 6, "thickness": 1.5, "opacity": 1}, "encoding": {"y": {"field": "hi", "type": "quantitative"}}},
                {"mark": {"type": "point", "filled": true, "stroke": "black", "strokeWidth": 1.5, "size": 40, "opacity": 1},
                 "encoding": {"y": {"field": "v", "type": "quantitative"},
                   "shape": {"field": "s", "type": "nominal", "scale": {"domain": ["Untreated control","CWLDVC","CDLVWC (control)","Act-1 Ab","Isotype control Ab"], "range": ["circle","square","square","triangle-up","triangle-up"]}, "legend": null},
                   "fill": {"field": "s", "type": "nominal", "scale": {"domain": ["Untreated control","CWLDVC","CDLVWC (control)","Act-1 Ab","Isotype control Ab"], "range": ["white","white","black","white","black"]}, "legend": null}}}
              ]
            },
            {"width": 42, "height": 1, "view": {"stroke": null}, "data": {"values": []}, "mark": "point"},
            {
              "width": 103, "height": 124,
              "title": {"text": "15 ng/ml", "fontSize": 10.5, "offset": 4, "dx": 8},
              "data": {"name": "dvals"},
              "transform": [{"filter": "datum.p == 'D4'"}],
              "encoding": {"x": {"field": "day", "type": "quantitative", "scale": {"domain": [0, 8], "nice": false}, "axis": {"values": [1,3,5,7], "title": null, "labelFontSize": 10, "labelPadding": 6}}},
              "layer": [
                {"mark": {"type": "line", "color": "black", "strokeWidth": 2},
                 "encoding": {"y": {"field": "v", "type": "quantitative", "scale": {"domain": [0, 5], "nice": false}, "axis": {"values": [0,1,2,3,4,5], "title": "p24 pg/mL (x10³)", "titleFontSize": 10.5, "labelFontSize": 10, "labelPadding": 6, "titlePadding": 8}}, "detail": {"field": "s"}}},
                {"mark": {"type": "rule", "color": "black", "strokeWidth": 1.5}, "encoding": {"y": {"field": "lo", "type": "quantitative"}, "y2": {"field": "hi"}}},
                {"mark": {"type": "tick", "orient": "horizontal", "color": "black", "size": 6, "thickness": 1.5, "opacity": 1}, "encoding": {"y": {"field": "lo", "type": "quantitative"}}},
                {"mark": {"type": "tick", "orient": "horizontal", "color": "black", "size": 6, "thickness": 1.5, "opacity": 1}, "encoding": {"y": {"field": "hi", "type": "quantitative"}}},
                {"mark": {"type": "point", "filled": true, "stroke": "black", "strokeWidth": 1.5, "size": 40, "opacity": 1},
                 "encoding": {"y": {"field": "v", "type": "quantitative"},
                   "shape": {"field": "s", "type": "nominal", "scale": {"domain": ["Untreated control","CWLDVC","CDLVWC (control)","Act-1 Ab","Isotype control Ab"], "range": ["circle","square","square","triangle-up","triangle-up"]}, "legend": null},
                   "fill": {"field": "s", "type": "nominal", "scale": {"domain": ["Untreated control","CWLDVC","CDLVWC (control)","Act-1 Ab","Isotype control Ab"], "range": ["white","white","black","white","black"]}, "legend": null}}}
              ]
            },
            {"width": 22, "height": 1, "view": {"stroke": null}, "data": {"values": []}, "mark": "point"},
            {
              "width": 100, "height": 124,
              "title": {"text": "3 ng/ml", "fontSize": 10.5, "offset": 4, "dx": 11},
              "data": {"name": "dvals"},
              "transform": [{"filter": "datum.p == 'D5'"}],
              "encoding": {"x": {"field": "day", "type": "quantitative", "scale": {"domain": [0, 8], "nice": false}, "axis": {"values": [1,3,5,7], "title": "days after infection", "titleFontSize": 10.5, "titleX": 110, "titleY": 11, "titleAlign": "left", "titleBaseline": "middle", "labelFontSize": 10, "labelPadding": 6}}},
              "layer": [
                {"mark": {"type": "line", "color": "black", "strokeWidth": 2},
                 "encoding": {"y": {"field": "v", "type": "quantitative", "scale": {"domain": [0, 4], "nice": false}, "axis": {"values": [0,1,2,3,4], "title": "p24 pg/mL (x10³)", "titleFontSize": 10.5, "labelFontSize": 10, "labelPadding": 6, "titlePadding": 3}}, "detail": {"field": "s"}}},
                {"mark": {"type": "rule", "color": "black", "strokeWidth": 1.5}, "encoding": {"y": {"field": "lo", "type": "quantitative"}, "y2": {"field": "hi"}}},
                {"mark": {"type": "tick", "orient": "horizontal", "color": "black", "size": 6, "thickness": 1.5, "opacity": 1}, "encoding": {"y": {"field": "lo", "type": "quantitative"}}},
                {"mark": {"type": "tick", "orient": "horizontal", "color": "black", "size": 6, "thickness": 1.5, "opacity": 1}, "encoding": {"y": {"field": "hi", "type": "quantitative"}}},
                {"mark": {"type": "point", "filled": true, "stroke": "black", "strokeWidth": 1.5, "size": 40, "opacity": 1},
                 "encoding": {"y": {"field": "v", "type": "quantitative"},
                   "shape": {"field": "s", "type": "nominal", "scale": {"domain": ["Untreated control","CWLDVC","CDLVWC (control)","Act-1 Ab","Isotype control Ab"], "range": ["circle","square","square","triangle-up","triangle-up"]},
                     "legend": {"orient": "none", "legendX": 110, "legendY": 37.5, "title": null, "labelFontSize": 9.5, "symbolSize": 45, "symbolStrokeColor": "black", "symbolStrokeWidth": 1.3, "labelOffset": 10, "rowPadding": -0.5}},
                   "fill": {"field": "s", "type": "nominal", "scale": {"domain": ["Untreated control","CWLDVC","CDLVWC (control)","Act-1 Ab","Isotype control Ab"], "range": ["white","white","black","white","black"]},
                     "legend": {"orient": "none", "legendX": 110, "legendY": 37.5, "title": null, "labelFontSize": 9.5, "symbolSize": 45, "symbolStrokeColor": "black", "symbolStrokeWidth": 1.3, "labelOffset": 10, "rowPadding": -0.5}}}}
              ]
            }
          ]
        }
      ]
    },
    {
      "bounds": "flush",
      "spacing": 0,
      "resolve": {"scale": {"color": "independent"}, "legend": {"color": "independent"}},
      "hconcat": [
        {"width": 95, "height": 1, "view": {"stroke": null, "fill": "white"}, "data": {"values": []}, "mark": "point"},
        {
          "width": 82, "height": 91,
          "view": {"stroke": null},
          "title": {"text": "E.", "anchor": "start", "frame": "group", "dx": -28, "fontSize": 13.5, "offset": 0},
          "layer": [
            {"data": {"name": "eGray"}, "mark": {"type": "area", "color": "#dcdcdc", "line": {"color": "#999999", "strokeWidth": 0.8}},
             "encoding": {
               "x": {"field": "x", "type": "quantitative", "scale": {"type": "log", "domain": [100, 45000], "nice": false},
                 "axis": {"values": [100, 1000, 10000], "labelExpr": "datum.value == 100 ? '10²' : datum.value == 1000 ? '10³' : '10⁴'", "title": "gp120 binding", "titleFontSize": 11, "titlePadding": 8, "labelFontSize": 8, "domain": true, "domainColor": "black", "ticks": true, "tickColor": "black", "tickSize": 3, "labelPadding": 1}},
               "y": {"field": "n", "type": "quantitative", "scale": {"domain": [0, 240], "nice": false},
                 "axis": {"values": [0,50,100,150,200], "title": "# Cells", "titleFontSize": 6.5, "labelFontSize": 7.5, "domain": true, "domainColor": "black", "ticks": true, "tickColor": "black", "tickSize": 3, "labelPadding": 1, "titlePadding": 3}}
             }},
            {"data": {"name": "eLines"}, "mark": {"type": "line", "strokeWidth": 1.8},
             "encoding": {
               "x": {"field": "x", "type": "quantitative"},
               "y": {"field": "n", "type": "quantitative"},
               "color": {"field": "s", "type": "nominal",
                 "scale": {"domain": ["no gp120", "gp120-PE", "gp120-PE + gp120 (40 µM)", "gp120-PE + gp120 (100 µM)", "gp120-PE + gp120 (200 µM)"], "range": ["#c8c8c8", "black", "#00e000", "#ff0000", "#0000ff"]},
                 "legend": {"orient": "none", "legendX": 113, "legendY": 25, "title": null, "symbolType": "M-2.8,0H2.8", "symbolSize": 36, "symbolStrokeWidth": 3.5, "labelFontSize": 10, "labelOffset": 6, "rowPadding": -1.8}}
             }}
          ]
        },
        {"width": 234, "height": 1, "view": {"stroke": null}, "data": {"values": []}, "mark": "point"},
        {
          "width": 93, "height": 94,
          "view": {"stroke": null},
          "title": {"text": "F.", "anchor": "start", "frame": "group", "dx": -44, "fontSize": 13.5, "offset": 1},
          "layer": [
            {"data": {"name": "fGray"}, "mark": {"type": "area", "color": "#dcdcdc", "line": {"color": "#b0b0b0", "strokeWidth": 0.8}},
             "encoding": {
               "x": {"field": "x", "type": "quantitative", "scale": {"type": "log", "domain": [3.3, 350000], "nice": false},
                 "axis": {"values": [10, 100, 1000, 10000, 100000], "labelExpr": "datum.value == 10 ? '10¹' : datum.value == 100 ? '10²' : datum.value == 1000 ? '10³' : datum.value == 10000 ? '10⁴' : '10⁵'", "title": "gp120 binding", "titleFontSize": 11, "titlePadding": 8, "labelFontSize": 7, "domain": true, "domainColor": "black", "ticks": true, "tickColor": "black", "tickSize": 3, "labelPadding": 1}},
               "y": {"field": "n", "type": "quantitative", "scale": {"domain": [0, 250], "nice": false},
                 "axis": {"values": [0,50,100,150,200,250], "title": "# Cells", "titleFontSize": 6.5, "labelFontSize": 7, "domain": true, "domainColor": "black", "ticks": true, "tickColor": "black", "tickSize": 3, "labelPadding": 1, "titlePadding": 3}}
             }},
            {"data": {"name": "fLines"}, "mark": {"type": "line", "strokeWidth": 1.8},
             "encoding": {
               "x": {"field": "x", "type": "quantitative"},
               "y": {"field": "n", "type": "quantitative"},
               "color": {"field": "s", "type": "nominal",
                 "scale": {"domain": ["Control", "gp120-PE", "gp120-PE + CWLDVC 20 µM", "gp120-PE + CDLVWC 20 µM"], "range": ["#d8d8d8", "black", "#ff0000", "#0000ff"]},
                 "legend": {"orient": "none", "legendX": 108, "legendY": 32, "title": null, "symbolType": "M-1.75,0H1.75", "symbolSize": 36, "symbolStrokeWidth": 3.5, "labelFontSize": 10.5, "labelOffset": 2, "rowPadding": -2.5}}
             }}
          ]
        }
      ]
    }
  ]
}
